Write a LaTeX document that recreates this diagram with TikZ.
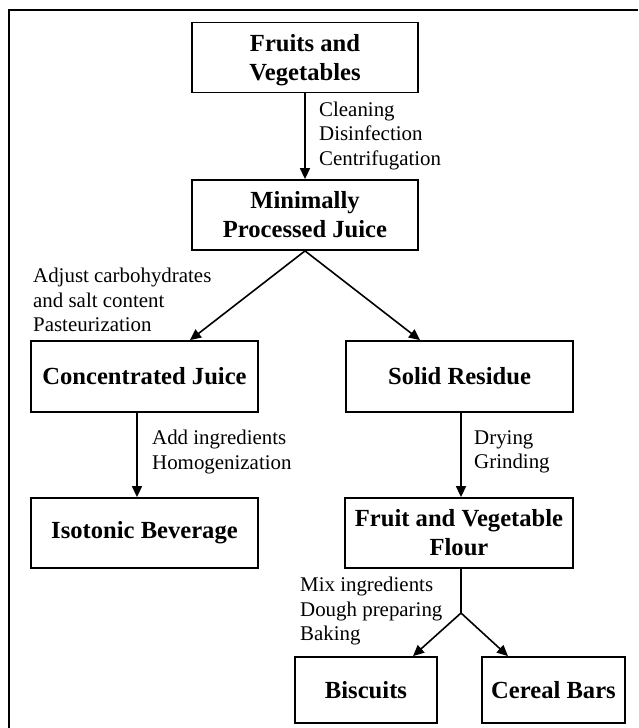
\documentclass[tikz,border=0pt]{standalone}
\usepackage{fontspec}
\setmainfont{Liberation Serif}
\usetikzlibrary{arrows.meta}
\newcommand\twoline[2]{\raisebox{-2.5pt}[\height][\depth]{\begin{tabular}{@{}c@{}}#1\\#2\end{tabular}}}
\begin{document}
\begin{tikzpicture}[x=1pt,y=-1pt,
  box/.style={draw, line width=1.8pt, align=center, inner sep=0pt,
    font=\fontsize{24.6}{29}\selectfont\bfseries},
  lab/.style={anchor=west, align=left, inner sep=0pt,
    font=\fontsize{20.9}{24.5}\selectfont},
  arr/.style={line width=1.6pt, -{Triangle[length=11pt,width=10pt]}},
  ln/.style={line width=1.6pt}]
\useasboundingbox (0,0) rectangle (638,728);
\draw[line width=1.8pt] (9,728) -- (9,10) -- (638,10);

\node[box, minimum width=226, minimum height=70] (fv) at (305,57.5) {\twoline{Fruits and}{Vegetables}};
\node[box, minimum width=226, minimum height=70] (mpj) at (305,215) {\twoline{Minimally}{Processed Juice}};
\node[box, minimum width=227, minimum height=71] (cj) at (144.5,376.5) {Concentrated Juice};
\node[box, minimum width=227, minimum height=71] (sr) at (459.5,376.5) {Solid Residue};
\node[box, minimum width=227, minimum height=70] (ib) at (144.5,533) {Isotonic Beverage};
\node[box, minimum width=228, minimum height=70] (ff) at (459,533) {\twoline{Fruit and Vegetable}{Flour}};
\node[box, minimum width=142, minimum height=66] (bi) at (366,690) {Biscuits};
\node[box, minimum width=143, minimum height=66] (cb) at (553.5,690) {Cereal Bars};

\node[lab] (l1) at (319,136) {Cleaning\\Disinfection\\Centrifugation};
\node[lab] (l2) at (33,300) {Adjust carbohydrates\\and salt content\\Pasteurization};
\node[lab] (l3) at (152,452) {Add ingredients\\Homogenization};
\node[lab] (l4) at (474,452) {Drying\\Grinding};
\node[lab] (l5) at (300,611) {Mix ingredients\\Dough preparing\\Baking};

\coordinate (j) at (461,613);

\draw[arr] (fv.south) -- (mpj.north);
\draw[arr] (mpj.south) -- ([xshift=45.5pt]cj.north);
\draw[arr] (mpj.south) -- ([xshift=-39.5pt]sr.north);
\draw[arr] ([xshift=-7.5pt]cj.south) -- ([xshift=-7.5pt]ib.north);
\draw[arr] ([xshift=1.5pt]sr.south) -- ([xshift=2pt]ff.north);
\draw[ln] ([xshift=2pt]ff.south) -- (j);
\draw[arr] (j) -- ([xshift=47pt]bi.north);
\draw[arr] (j) -- ([xshift=-45.5pt]cb.north);
\end{tikzpicture}
\end{document}
